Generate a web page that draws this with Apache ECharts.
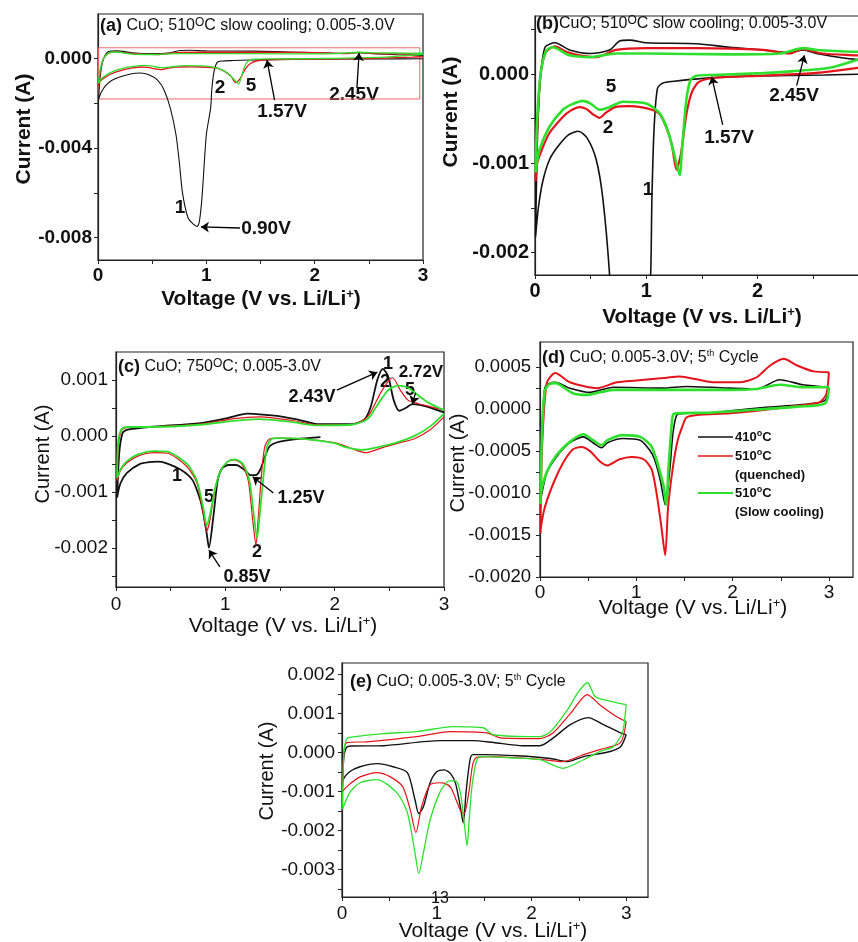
<!DOCTYPE html>
<html>
<head>
<meta charset="utf-8">
<script src="https://cdn.jsdelivr.net/npm/echarts@6/dist/echarts.min.js"></script>
<style>
  html, body { margin: 0; padding: 0; background: #fff; }
  #main { width: 858px; height: 942px; }
</style>
</head>
<body>
<div id="main"></div>
<script>
// ---- data: [voltage (V), current (A)], cathodic scan first, then anodic ----
// (a) and (b): same cell, 510C slow cooling, cycles 1, 2, 5
var abCycle1 = [[3.0,0.0],[2.6,-0.00001],[2.0,-0.00002],[1.6,-0.00004],[1.4,-0.00006],[1.25,-0.00008],[1.15,-0.0001],[1.1,-0.00016],
  [1.07,-0.0006],[1.05,-0.0014],[1.04,-0.0022],[1.0,-0.0034],[0.96,-0.0062],[0.935,-0.0073],[0.915,-0.0075],[0.88,-0.0074],[0.83,-0.0071],
  [0.78,-0.006],[0.75,-0.0046],[0.72,-0.0034],[0.67,-0.00225],[0.61,-0.0014],[0.55,-0.00096],[0.47,-0.00072],[0.39,-0.00064],[0.3,-0.00068],
  [0.2,-0.00082],[0.13,-0.00096],[0.07,-0.0012],[0.03,-0.0015],[0.005,-0.00182],
  [0.02,-0.0008],[0.045,-0.0001],[0.09,0.0003],[0.18,0.00035],[0.31,0.00027],[0.5,0.00023],[0.67,0.00027],[0.76,0.00037],[0.85,0.00038],
  [1.0,0.00035],[1.45,0.00034],[1.75,0.0003],[2.05,0.00027],[2.29,0.00024],[2.41,0.00027],[2.53,0.00023],[2.77,0.00018],[3.0,0.00015]];
var abCycle2 = [[3.0,0.0001],[2.9,0.00007],[2.5,0.00001],[2.0,-0.00002],[1.75,-0.00003],[1.57,-0.00005],[1.47,-0.00009],[1.41,-0.0002],
  [1.36,-0.00045],[1.31,-0.0009],[1.27,-0.00107],[1.23,-0.0008],[1.18,-0.0006],[1.12,-0.00045],[1.05,-0.0004],[0.95,-0.00037],[0.85,-0.00036],
  [0.72,-0.00037],[0.64,-0.00043],[0.58,-0.00049],[0.52,-0.00045],[0.46,-0.00039],[0.4,-0.00037],[0.32,-0.00041],[0.25,-0.00048],
  [0.13,-0.00066],[0.06,-0.00085],[0.02,-0.001],[0.005,-0.0012],
  [0.02,-0.0006],[0.05,0.0],[0.1,0.00025],[0.18,0.00031],[0.28,0.00025],[0.4,0.00021],[0.55,0.00019],[0.73,0.00027],[1.0,0.00029],
  [1.45,0.00029],[2.05,0.00027],[2.29,0.00023],[2.4,0.00028],[2.58,0.00023],[2.9,0.00021],[3.0,0.0002]];
var abCycle5 = [[3.0,0.0002],[2.9,0.00016],[2.65,0.00007],[2.3,0.00003],[2.05,0.00001],[1.6,-0.00001],[1.45,-0.00002],[1.4,-0.00006],
  [1.37,-0.0002],[1.35,-0.0004],[1.32,-0.00085],[1.3,-0.00113],[1.27,-0.001],[1.2,-0.00066],[1.12,-0.00044],[1.0,-0.00033],[0.79,-0.00031],
  [0.67,-0.00037],[0.58,-0.0004],[0.5,-0.00033],[0.43,-0.0003],[0.33,-0.00034],[0.25,-0.0004],[0.13,-0.00059],[0.04,-0.00085],[0.005,-0.0011],
  [0.02,-0.0005],[0.05,0.0],[0.1,0.00026],[0.16,0.0003],[0.31,0.00021],[0.5,0.00019],[0.73,0.00023],[1.0,0.00023],[1.75,0.00022],
  [2.2,0.00023],[2.41,0.00029],[2.53,0.00027],[2.9,0.00025],[3.0,0.00025]];

// (c) 750C, cycles 1, 2, 5
var cCycle1 = [[1.87,-0.00002],[1.69,-0.00005],[1.5,-0.0001],[1.44,-0.00014],[1.4,-0.0002],[1.36,-0.00038],[1.32,-0.0006],[1.28,-0.0007],
  [1.23,-0.0007],[1.17,-0.0006],[1.1,-0.00052],[1.03,-0.00052],[0.97,-0.00058],[0.93,-0.0008],[0.89,-0.00145],[0.85,-0.002],[0.83,-0.00175],
  [0.8,-0.0014],[0.77,-0.00114],[0.7,-0.00079],[0.59,-0.0006],[0.45,-0.00048],[0.38,-0.00046],[0.3,-0.00047],[0.22,-0.0005],[0.1,-0.00066],
  [0.04,-0.00085],[0.01,-0.0011],
  [0.03,-0.0003],[0.06,0.00005],[0.1,0.00011],[0.31,0.00016],[0.77,0.00023],[1.02,0.00032],[1.2,0.0004],[1.4,0.00037],[1.53,0.00034],
  [1.69,0.00028],[1.84,0.00021],[2.15,0.00021],[2.27,0.00029],[2.33,0.00052],[2.39,0.001],[2.44,0.0012],[2.49,0.00106],[2.54,0.00064],
  [2.59,0.00045],[2.65,0.0005],[2.71,0.00057],[2.79,0.00055],[2.88,0.0005],[3.0,0.00042]];
var cCycle2 = [[3.0,0.00034],[2.88,0.00012],[2.73,-0.00005],[2.6,-0.00012],[2.45,-0.0002],[2.28,-0.0003],[2.15,-0.00022],[2.0,-0.00012],
  [1.69,-0.00005],[1.48,-0.00004],[1.4,-0.00006],[1.36,-0.0002],[1.33,-0.0007],[1.3,-0.0015],[1.28,-0.00195],[1.25,-0.0015],[1.21,-0.0008],
  [1.15,-0.0005],[1.08,-0.00043],[1.02,-0.00046],[0.95,-0.00065],[0.9,-0.001],[0.86,-0.0015],[0.83,-0.0017],[0.8,-0.0014],[0.74,-0.00084],
  [0.65,-0.00055],[0.47,-0.00031],[0.35,-0.0003],[0.2,-0.00036],[0.1,-0.00048],[0.04,-0.00062],[0.01,-0.0008],
  [0.02,-0.0002],[0.05,0.0001],[0.1,0.00015],[0.31,0.00016],[0.77,0.00021],[1.08,0.00031],[1.32,0.00034],[1.6,0.00028],[1.84,0.0002],
  [2.15,0.0002],[2.3,0.00034],[2.42,0.00077],[2.5,0.001],[2.53,0.00104],[2.6,0.00082],[2.67,0.00064],[2.76,0.00058],[2.88,0.00052],[3.0,0.00046]];
var cCycle5 = [[3.0,0.0004],[2.88,0.00018],[2.73,0.0],[2.55,-0.00013],[2.4,-0.0002],[2.25,-0.00025],[2.1,-0.0002],[2.0,-0.00013],
  [1.69,-0.00005],[1.48,-0.00004],[1.42,-0.00006],[1.38,-0.0002],[1.35,-0.0007],[1.31,-0.0015],[1.29,-0.00183],[1.26,-0.0014],[1.22,-0.0008],
  [1.16,-0.0005],[1.09,-0.00042],[1.02,-0.00046],[0.95,-0.00065],[0.9,-0.001],[0.86,-0.0014],[0.83,-0.0016],[0.8,-0.0013],[0.74,-0.0008],
  [0.65,-0.0005],[0.47,-0.00028],[0.35,-0.00027],[0.2,-0.00033],[0.1,-0.00045],[0.04,-0.0006],[0.01,-0.00075],
  [0.02,-0.0001],[0.05,0.00012],[0.1,0.00016],[0.31,0.00016],[0.77,0.0002],[1.08,0.00027],[1.3,0.0003],[1.6,0.00025],[1.84,0.00019],
  [2.15,0.0002],[2.3,0.0003],[2.39,0.00055],[2.49,0.00082],[2.58,0.0009],[2.67,0.00086],[2.85,0.0006],[3.0,0.00046]];

// (d) 5th cycle: 410C, 510C quenched, 510C slow cooling
var d410 = [[3.0,0.00026],[2.97,0.00012],[2.9,0.00008],[2.67,0.00005],[2.32,0.00002],[1.8,-0.00004],[1.49,-0.00005],[1.42,-0.00007],
  [1.38,-0.00029],[1.35,-0.00069],[1.3,-0.00114],[1.25,-0.00085],[1.19,-0.0006],[1.14,-0.00049],[1.04,-0.00037],[0.86,-0.00035],[0.7,-0.0004],
  [0.64,-0.00046],[0.55,-0.0004],[0.45,-0.00033],[0.31,-0.0004],[0.17,-0.00057],[0.07,-0.00076],[0.02,-0.001],[0.005,-0.0011],
  [0.02,-0.0003],[0.05,0.00025],[0.1,0.00031],[0.16,0.00032],[0.31,0.00025],[0.52,0.0002],[0.76,0.00026],[1.28,0.00025],[1.52,0.00027],
  [1.97,0.00025],[2.25,0.00024],[2.49,0.00035],[2.73,0.00029],[3.0,0.00026]];
var d510q = [[3.0,0.00044],[2.99,0.0003],[2.97,0.00017],[2.9,0.00008],[2.67,0.00004],[2.32,-0.00001],[1.97,-0.00005],[1.63,-0.00007],
  [1.52,-0.0001],[1.49,-0.00017],[1.43,-0.00037],[1.38,-0.00069],[1.33,-0.00117],[1.3,-0.00174],[1.26,-0.0014],[1.21,-0.001],[1.16,-0.00072],
  [1.08,-0.0006],[0.95,-0.00057],[0.82,-0.0006],[0.7,-0.00067],[0.62,-0.00062],[0.52,-0.0005],[0.43,-0.00045],[0.34,-0.00048],
  [0.24,-0.00064],[0.14,-0.00088],[0.05,-0.00117],[0.01,-0.0014],[0.005,-0.00148],
  [0.02,-0.0005],[0.07,0.00031],[0.16,0.00043],[0.31,0.00032],[0.59,0.00025],[0.8,0.00032],[1.0,0.00034],[1.28,0.00037],[1.45,0.00039],
  [1.8,0.00032],[2.08,0.00032],[2.25,0.00038],[2.39,0.00052],[2.53,0.0006],[2.67,0.00052],[2.84,0.00045],[3.0,0.00044]];
var d510s = [[3.0,0.00026],[2.96,0.00007],[2.67,0.00003],[2.32,0.0],[1.8,-0.00004],[1.42,-0.00005],[1.38,-0.00007],[1.36,-0.00029],
  [1.335,-0.00069],[1.31,-0.00114],[1.28,-0.0009],[1.16,-0.00045],[1.04,-0.00033],[0.86,-0.00031],[0.7,-0.00037],[0.64,-0.00043],
  [0.55,-0.00037],[0.45,-0.0003],[0.31,-0.00039],[0.17,-0.00055],[0.07,-0.00075],[0.01,-0.001],[0.005,-0.00113],
  [0.02,-0.0003],[0.05,0.00022],[0.1,0.0003],[0.16,0.00031],[0.34,0.00019],[0.49,0.00017],[0.76,0.00023],[1.28,0.00023],[1.97,0.00023],
  [2.25,0.00024],[2.49,0.00029],[2.73,0.00026],[3.0,0.00026]];

// (e) 5th cycle, three samples
var eBlack = [[3.0,0.00046],[2.94,0.00015],[2.83,0.00003],[2.55,-0.0001],[2.38,-0.00023],[2.2,-0.00015],[1.85,-0.00008],[1.49,-0.00005],
  [1.38,-0.00005],[1.35,-0.0002],[1.31,-0.001],[1.28,-0.0018],[1.25,-0.0014],[1.2,-0.0008],[1.15,-0.00055],[1.08,-0.00044],[1.0,-0.00049],
  [0.93,-0.00077],[0.86,-0.00138],[0.81,-0.00156],[0.77,-0.0012],[0.69,-0.00051],[0.54,-0.00036],[0.37,-0.00028],[0.19,-0.00036],
  [0.08,-0.00049],[0.01,-0.0007],[0.005,-0.00085],
  [0.02,-0.0001],[0.05,0.00014],[0.1,0.00017],[0.44,0.00018],[1.03,0.00031],[1.38,0.00031],[1.6,0.00026],[1.91,0.00018],[2.09,0.00018],
  [2.23,0.00038],[2.41,0.00072],[2.6,0.0009],[2.76,0.00072],[2.94,0.00051],[3.0,0.00046]];
var eRed = [[3.0,0.0008],[2.94,0.00026],[2.72,0.00008],[2.55,-0.00005],[2.33,-0.00023],[2.12,-0.00018],[1.85,-0.00013],[1.56,-0.0001],
  [1.42,-0.00012],[1.38,-0.0003],[1.34,-0.001],[1.3,-0.00152],[1.27,-0.00155],[1.22,-0.0013],[1.15,-0.0009],[1.08,-0.00078],[1.03,-0.00077],
  [0.93,-0.00082],[0.84,-0.00138],[0.78,-0.00205],[0.72,-0.00146],[0.64,-0.00087],[0.51,-0.00062],[0.37,-0.00051],[0.19,-0.00062],
  [0.05,-0.00087],[0.005,-0.001],
  [0.02,0.0],[0.05,0.00026],[0.26,0.00028],[0.79,0.00041],[1.14,0.00054],[1.53,0.00051],[1.67,0.00038],[2.09,0.00036],[2.23,0.00051],
  [2.41,0.001],[2.59,0.00149],[2.72,0.00123],[2.9,0.00092],[3.0,0.0008]];
var eGreen = [[3.0,0.00123],[2.97,0.0006],[2.94,0.00041],[2.86,0.00015],[2.72,0.00003],[2.55,-0.00018],[2.33,-0.0004],[2.09,-0.00018],
  [1.77,-0.00013],[1.49,-0.0001],[1.44,-0.00012],[1.41,-0.0003],[1.37,-0.0009],[1.34,-0.0018],[1.32,-0.00238],[1.29,-0.0018],[1.25,-0.00103],
  [1.2,-0.00072],[1.14,-0.00072],[1.11,-0.00075],[1.03,-0.00103],[0.93,-0.00172],[0.86,-0.00256],[0.81,-0.0031],[0.77,-0.00256],
  [0.69,-0.00154],[0.58,-0.00103],[0.37,-0.00069],[0.19,-0.00077],[0.08,-0.00103],[0.005,-0.00146],
  [0.02,0.0],[0.05,0.00036],[0.1,0.0004],[0.44,0.00049],[0.79,0.00054],[1.17,0.00067],[1.49,0.00064],[1.6,0.00046],[2.09,0.00041],
  [2.2,0.00054],[2.38,0.0011],[2.49,0.00154],[2.59,0.0018],[2.67,0.00144],[2.76,0.00136],[3.0,0.00123]];

// ---- tick labels ----
var xTickLabels = [0, 1, 2, 3];
var xTickMarks = [0, 0.5, 1, 1.5, 2, 2.5, 3];
var aYLabels = [0, -0.004, -0.008];
var aYMarks = [0, -0.002, -0.004, -0.006, -0.008];
var bYLabels = [0, -0.001, -0.002];
var bYMarks = [0.0005, 0, -0.0005, -0.001, -0.0015, -0.002];
var cYLabels = [0.001, 0, -0.001, -0.002];
var cYMarks = [0.001, 0.0005, 0, -0.0005, -0.001, -0.0015, -0.002, -0.0025];
var dYLabels = [0.0005, 0, -0.0005, -0.001, -0.0015, -0.002];
var dYMarks = [0.0005, 0.00025, 0, -0.00025, -0.0005, -0.00075, -0.001, -0.00125, -0.0015, -0.00175, -0.002];
var eYLabels = [0.002, 0.001, 0, -0.001, -0.002, -0.003];
var eYMarks = [0.002, 0.0015, 0.001, 0.0005, 0, -0.0005, -0.001, -0.0015, -0.002, -0.0025, -0.003, -0.0035];

var FONT = 'Liberation Sans, Arial, Helvetica, sans-serif';
var BLACK = '#111111', RED = '#e3141b', GREEN = '#2ee02e';

var chart = echarts.init(document.getElementById('main'));

function xAxis(gi, max, bold, size, margin) {
    return {
        type: 'value', gridIndex: gi, min: 0, max: max,
        axisLine: { show: true, onZero: false, lineStyle: { color: '#222', width: 1.2 } },
        axisTick: { show: true, length: 4, customValues: xTickMarks, lineStyle: { color: '#222' } },
        axisLabel: {
            customValues: xTickLabels, margin: margin, color: '#111',
            fontFamily: FONT, fontWeight: bold ? 'bold' : 'normal', fontSize: size,
            formatter: function (v) { return String(Math.round(v)); }
        },
        splitLine: { show: false }
    };
}

function yAxis(gi, min, max, labels, marks, digits, bold, size, margin) {
    return {
        type: 'value', gridIndex: gi, min: min, max: max,
        axisLine: { show: true, onZero: false, lineStyle: { color: '#222', width: 1.2 } },
        axisTick: { show: true, length: 4, customValues: marks, lineStyle: { color: '#222' } },
        axisLabel: {
            customValues: labels, margin: margin, color: '#111',
            fontFamily: FONT, fontWeight: bold ? 'bold' : 'normal', fontSize: size,
            formatter: function (v) { return Math.abs(v) < 1e-12 ? (0).toFixed(digits) : v.toFixed(digits); }
        },
        splitLine: { show: false }
    };
}

function cv(gi, data, color, width, extra) {
    var s = {
        type: 'line', xAxisIndex: gi, yAxisIndex: gi, data: data,
        symbol: 'none', showSymbol: false, smooth: 0.25, clip: true,
        lineStyle: { color: color, width: width }, itemStyle: { color: color },
        emphasis: { disabled: true }, silent: true
    };
    for (var k in extra) s[k] = extra[k];
    return s;
}

function arrows(list) {
    return {
        silent: true, animation: false, symbol: ['none', 'arrow'], symbolSize: 8,
        label: { show: false },
        lineStyle: { color: '#000', width: 1.3, type: 'solid' },
        emphasis: { disabled: true },
        data: list.map(function (a) { return [{ coord: [a[0], a[1]] }, { coord: [a[2], a[3]] }]; })
    };
}

function gridBox(left, top, width, height) {
    return {
        left: left, top: top, width: width, height: height,
        show: true, borderColor: '#222', borderWidth: 1.2,
        outerBoundsMode: 'none', containLabel: false
    };
}

// text helpers (graphic)
function txt(x, y, text, size, bold, align, extra) {
    var e = {
        type: 'text', x: x, y: y, silent: true,
        style: {
            text: text, fill: '#111', fontFamily: FONT, fontSize: size, fontWeight: bold ? 'bold' : 'normal',
            align: align || 'center', verticalAlign: 'middle', textAlign: align || 'center', textVerticalAlign: 'middle'
        }
    };
    for (var k in extra) e[k] = extra[k];
    return e;
}

function richTxt(x, y, text, size, bold, supSize, align, rotation) {
    var w = bold ? 'bold' : 'normal';
    var e = {
        type: 'text', x: x, y: y, silent: true,
        style: {
            text: text, fill: '#111', fontFamily: FONT, fontSize: size, fontWeight: w,
            align: align || 'center', verticalAlign: 'middle', textAlign: align || 'center', textVerticalAlign: 'middle',
            rich: {
                n: { fontFamily: FONT, fontSize: size, fontWeight: w, fill: '#111', color: '#111', lineHeight: size + 2 },
                b: { fontFamily: FONT, fontSize: size + 2, fontWeight: 'bold', fill: '#111', color: '#111', lineHeight: size + 2 },
                s: { fontFamily: FONT, fontSize: supSize, fontWeight: w, fill: '#111', color: '#111', verticalAlign: 'top', lineHeight: supSize }
            }
        }
    };
    if (rotation) e.rotation = rotation;
    return e;
}

var VOLT = '{n|Voltage (V vs. Li/Li}{s|+}{n|)}';
var ROT = Math.PI / 2;

var option = {
    backgroundColor: '#ffffff',
    animation: false,
    grid: [
        gridBox(98, 14, 325, 246),
        gridBox(535, 16, 334, 259),
        gridBox(116, 352, 328, 235),
        gridBox(540, 342, 313, 235),
        gridBox(342, 663, 306, 234)
    ],
    xAxis: [
        xAxis(0, 3, true, 19, 6),
        xAxis(1, 3, true, 20, 6),
        xAxis(2, 3, false, 19, 8),
        xAxis(3, 3.25, false, 19, 6),
        xAxis(4, 3.23, false, 19, 7)
    ],
    yAxis: [
        yAxis(0, -0.009, 0.002, aYLabels, aYMarks, 3, true, 19, 6),
        yAxis(1, -0.00225, 0.00065, bYLabels, bYMarks, 3, true, 20, 6),
        yAxis(2, -0.0027, 0.0015, cYLabels, cYMarks, 3, false, 19, 8),
        yAxis(3, -0.002, 0.0008, dYLabels, dYMarks, 4, false, 18.5, 9),
        yAxis(4, -0.0037, 0.0023, eYLabels, eYMarks, 3, false, 19, 7)
    ],
    series: [
        // (a)
        cv(0, abCycle1, BLACK, 1.1, {
            markLine: arrows([[1.31, -0.00757, 0.95, -0.00752], [1.63, -0.00185, 1.56, -0.00006], [2.39, -0.00131, 2.41, 0.00026]])
        }),
        cv(0, abCycle2, RED, 1.3, {
            markArea: {
                silent: true,
                itemStyle: { color: 'rgba(0,0,0,0)', borderColor: '#f06a6a', borderWidth: 1 },
                data: [[{ coord: [0.005, 0.00049] }, { coord: [2.97, -0.0018] }]]
            }
        }),
        cv(0, abCycle5, GREEN, 1.3),
        // (b)
        cv(1, abCycle1, BLACK, 1.6, {
            markLine: arrows([[1.686, -0.00057, 1.587, -0.00003], [2.35, -0.00013, 2.42, 0.00021]])
        }),
        cv(1, abCycle2, RED, 2.2),
        cv(1, abCycle5, GREEN, 2.6),
        // (c)
        cv(2, cCycle1, BLACK, 1.8, {
            markLine: arrows([[2.02, 0.00082, 2.39, 0.00114], [2.74, 0.00077, 2.71, 0.00057],
                              [1.44, -0.00102, 1.25, -0.00073], [0.95, -0.00234, 0.85, -0.00204]])
        }),
        cv(2, cCycle2, RED, 1.2),
        cv(2, cCycle5, GREEN, 1.8),
        // (d)
        cv(3, d410, BLACK, 1.6),
        cv(3, d510q, RED, 2),
        cv(3, d510s, GREEN, 2.6),
        // (e)
        cv(4, eBlack, BLACK, 1.4),
        cv(4, eRed, RED, 1.2),
        cv(4, eGreen, GREEN, 1.3)
    ],
    graphic: [
        // panel titles
        richTxt(100, 26, '{b|(a)} {n|CuO; 510}{s|O}{n|C slow cooling; 0.005-3.0V}', 16, false, 12, 'left'),
        richTxt(536, 24, '{b|(b)}{n|CuO; 510}{s|O}{n|C slow cooling; 0.005-3.0V}', 16, false, 12, 'left'),
        richTxt(118, 367, '{b|(c)} {n|CuO; 750}{s|O}{n|C; 0.005-3.0V}', 16, false, 12, 'left'),
        richTxt(542, 358, '{b|(d)} {n|CuO; 0.005-3.0V; 5}{s|th}{n| Cycle}', 16, false, 9, 'left'),
        richTxt(350, 682, '{b|(e)} {n|CuO; 0.005-3.0V; 5}{s|th}{n| Cycle}', 16, false, 9, 'left'),

        // axis names
        txt(24, 129, 'Current (A)', 21, true, 'center', { rotation: ROT }),
        richTxt(261, 299, VOLT, 21, true, 13),
        txt(451, 112, 'Current (A)', 21, true, 'center', { rotation: ROT }),
        richTxt(702, 317, VOLT, 21, true, 13),
        txt(43, 454, 'Current (A)', 20, false, 'center', { rotation: ROT }),
        richTxt(283, 626, VOLT, 21, false, 13),
        txt(458, 463, 'Current (A)', 20, false, 'center', { rotation: ROT }),
        richTxt(693, 608, VOLT, 21, false, 13),
        txt(267, 771, 'Current (A)', 20, false, 'center', { rotation: ROT }),
        richTxt(493, 931, VOLT, 21, false, 13),

        // annotations (a)
        txt(180, 208, '1', 19, true),
        txt(266, 229, '0.90V', 19, true),
        txt(220, 88, '2', 19, true),
        txt(251, 86, '5', 19, true),
        txt(282, 112, '1.57V', 19, true),
        txt(354, 95, '2.45V', 19, true),
        // annotations (b)
        txt(611, 87, '5', 19, true),
        txt(608, 128, '2', 19, true),
        txt(648, 190, '1', 19, true),
        txt(729, 138, '1.57V', 19, true),
        txt(794, 96, '2.45V', 19, true),
        // annotations (c)
        txt(388, 364, '1', 18, true),
        txt(385, 382, '2', 18, true),
        txt(421, 372, '2.72V', 17, true),
        txt(410, 390, '5', 18, true),
        txt(312, 397, '2.43V', 18, true),
        txt(177, 476, '1', 18, true),
        txt(209, 497, '5', 18, true),
        txt(257, 552, '2', 18, true),
        txt(301, 498, '1.25V', 18, true),
        txt(247, 577, '0.85V', 18, true),

        // legend (d)
        { type: 'line', silent: true, shape: { x1: 698, y1: 437, x2: 733, y2: 437 }, style: { stroke: BLACK, lineWidth: 1.6 } },
        { type: 'line', silent: true, shape: { x1: 698, y1: 456, x2: 733, y2: 456 }, style: { stroke: RED, lineWidth: 1.6 } },
        { type: 'line', silent: true, shape: { x1: 698, y1: 493, x2: 733, y2: 493 }, style: { stroke: GREEN, lineWidth: 2 } },
        richTxt(735, 437, '{n|410}{s|o}{n|C}', 13, true, 9, 'left'),
        richTxt(735, 456, '{n|510}{s|o}{n|C}', 13, true, 9, 'left'),
        txt(735, 475, '(quenched)', 13, true, 'left'),
        richTxt(735, 493, '{n|510}{s|o}{n|C}', 13, true, 9, 'left'),
        txt(735, 512, '(Slow cooling)', 13, true, 'left'),

        // stray page number in the scan
        txt(440, 899, '13', 16, false)
    ]
};

chart.setOption(option);
</script>
</body>
</html>
